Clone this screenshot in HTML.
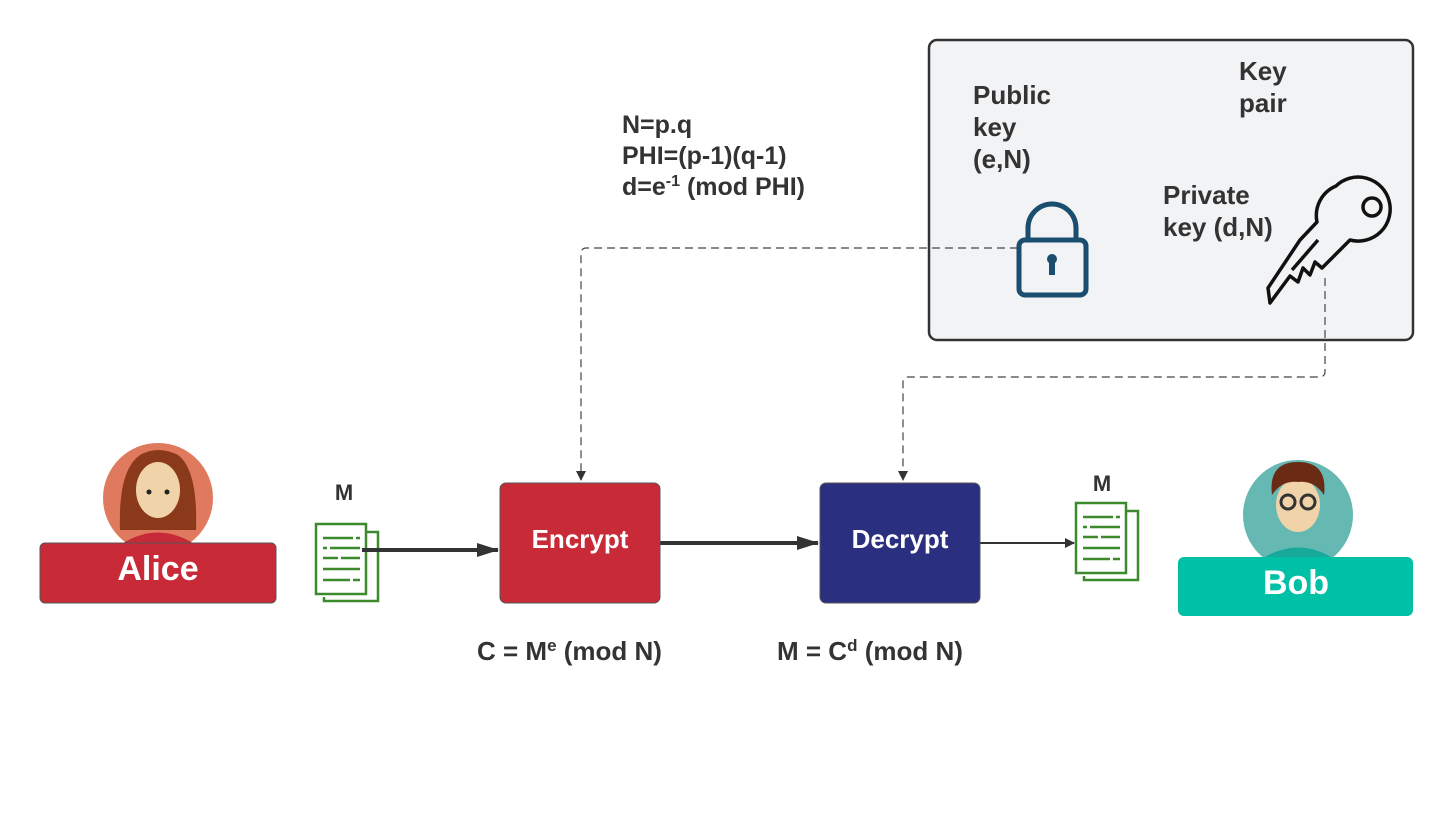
<!DOCTYPE html>
<html><head><style>
body{margin:0;background:#fff;}
svg text{font-family:"Liberation Sans",sans-serif;font-weight:bold;}
</style></head><body>
<svg width="1454" height="811" viewBox="0 0 1454 811" xmlns="http://www.w3.org/2000/svg">
<defs>
<marker id="ah" markerWidth="10" markerHeight="10" refX="9" refY="5" orient="auto" markerUnits="userSpaceOnUse"><path d="M0,0 L10,5 L0,10z" fill="#333"/></marker>
<marker id="big" markerWidth="22" markerHeight="14" refX="21" refY="7" orient="auto" markerUnits="userSpaceOnUse"><path d="M0,0 L22,7 L0,14z" fill="#333"/></marker>
</defs>
<rect x="929" y="40" width="484" height="300" rx="8" fill="#f2f3f5" stroke="#333" stroke-width="2.5"/>
<text font-size="26" fill="#333"><tspan x="973" y="104">Public</tspan><tspan x="973" y="136">key</tspan><tspan x="973" y="168">(e,N)</tspan></text>
<text font-size="26" fill="#333"><tspan x="1239" y="80">Key</tspan><tspan x="1239" y="112">pair</tspan></text>
<text font-size="26" fill="#333"><tspan x="1163" y="204">Private</tspan><tspan x="1163" y="236">key (d,N)</tspan></text>
<!-- lock -->
<g fill="none" stroke="#1b4d6e" stroke-width="5">
<path d="M1028,240 V228 a24,24 0 0 1 48,0 V240"/>
<rect x="1019" y="240" width="67" height="55" rx="6"/>
</g>
<circle cx="1052" cy="259" r="5" fill="#1b4d6e"/><rect x="1049" y="260" width="6" height="15" fill="#1b4d6e"/>
<!-- key -->
<g fill="none" stroke="#111" stroke-width="3.5" stroke-linejoin="round">
<path d="M1336,186 a32,32 0 1 1 14,54 L1322,268 L1315,262 L1310,275 L1303,268 L1298,282 L1290,276 L1270,303 L1268,288 L1300,240 L1317,222 a32,32 0 0 1 19,-36z"/>
<circle cx="1372" cy="207" r="9"/>
<path d="M1318,240 L1292,270"/>
</g>
<text font-size="25" fill="#333"><tspan x="622" y="133">N=p.q</tspan><tspan x="622" y="164">PHI=(p-1)(q-1)</tspan><tspan x="622" y="195">d=e<tspan font-size="16" dy="-9">-1</tspan><tspan dy="9"> (mod PHI)</tspan></tspan></text>
<!-- dashed -->
<path d="M1018,248 H586 a5,5 0 0 0 -5,5 V480" fill="none" stroke="#444" stroke-width="1.2" stroke-dasharray="8,5" marker-end="url(#ah)"/>
<path d="M1325,278 V372 a5,5 0 0 1 -5,5 H908 a5,5 0 0 0 -5,5 V480" fill="none" stroke="#444" stroke-width="1.2" stroke-dasharray="8,5" marker-end="url(#ah)"/>
<!-- Alice -->
<circle cx="158" cy="498" r="55" fill="#e07a5f"/>
<path d="M120,530 Q118,470 140,455 Q158,445 178,455 Q198,470 196,530z" fill="#8a3a1a"/>
<ellipse cx="158" cy="490" rx="22" ry="28" fill="#f0d3a8"/>
<circle cx="149" cy="492" r="2.5" fill="#222"/><circle cx="167" cy="492" r="2.5" fill="#222"/>
<path d="M120,545 Q158,520 196,545z" fill="#c62a38"/>
<rect x="40" y="543" width="236" height="60" rx="5" fill="#c92a38" stroke="#555"/>
<text x="158" y="580" font-size="34" fill="#fff" text-anchor="middle">Alice</text>
<!-- docs -->
<g fill="none" stroke="#3d8a2e" stroke-width="2.5">
<path d="M326,532 H378 V601 H324 V597"/>
<rect x="316" y="524" width="50" height="70" fill="#fff"/>
<path d="M323,538 H353 M356,538 H360 M323,548 H327 M330,548 H360 M323,558 H338 M341,558 H360 M323,569 H360 M323,580 H350 M353,580 H360"/>
</g>
<g fill="none" stroke="#3d8a2e" stroke-width="2.5">
<path d="M1086,511 H1138 V580 H1084 V576"/>
<rect x="1076" y="503" width="50" height="70" fill="#fff"/>
<path d="M1083,517 H1113 M1116,517 H1120 M1083,527 H1087 M1090,527 H1120 M1083,537 H1098 M1101,537 H1120 M1083,548 H1120 M1083,559 H1110 M1113,559 H1120"/>
</g>
<text x="344" y="500" font-size="22" fill="#333" text-anchor="middle">M</text>
<text x="1102" y="491" font-size="22" fill="#333" text-anchor="middle">M</text>
<!-- arrows -->
<line x1="362" y1="550" x2="498" y2="550" stroke="#333" stroke-width="4" marker-end="url(#big)"/>
<line x1="660" y1="543" x2="818" y2="543" stroke="#333" stroke-width="4" marker-end="url(#big)"/>
<line x1="980" y1="543" x2="1074" y2="543" stroke="#333" stroke-width="2" marker-end="url(#ah)"/>
<rect x="500" y="483" width="160" height="120" rx="6" fill="#c92a38" stroke="#555"/>
<text x="580" y="548" font-size="26" fill="#fff" text-anchor="middle">Encrypt</text>
<rect x="820" y="483" width="160" height="120" rx="6" fill="#2b2f80" stroke="#555"/>
<text x="900" y="548" font-size="26" fill="#fff" text-anchor="middle">Decrypt</text>
<text x="477" y="660" font-size="26" fill="#333">C = M<tspan font-size="17" dy="-9">e</tspan><tspan dy="9"> (mod N)</tspan></text>
<text x="777" y="660" font-size="26" fill="#333">M = C<tspan font-size="17" dy="-9">d</tspan><tspan dy="9"> (mod N)</tspan></text>
<!-- Bob -->
<circle cx="1298" cy="515" r="55" fill="#66b8b3"/>
<path d="M1260,560 Q1298,535 1336,560z" fill="#17a99a"/>
<ellipse cx="1298" cy="505" rx="22" ry="27" fill="#f0d3a8"/>
<path d="M1272,495 Q1268,462 1298,462 Q1328,462 1324,495 Q1314,480 1298,482 Q1282,480 1272,495z" fill="#6b2a14"/>
<circle cx="1288" cy="502" r="7" fill="none" stroke="#333" stroke-width="3"/><circle cx="1308" cy="502" r="7" fill="none" stroke="#333" stroke-width="3"/>
<rect x="1178" y="557" width="235" height="59" rx="6" fill="#00c0a5"/>
<text x="1296" y="594" font-size="34" fill="#fff" text-anchor="middle">Bob</text>
</svg>
</body></html>
